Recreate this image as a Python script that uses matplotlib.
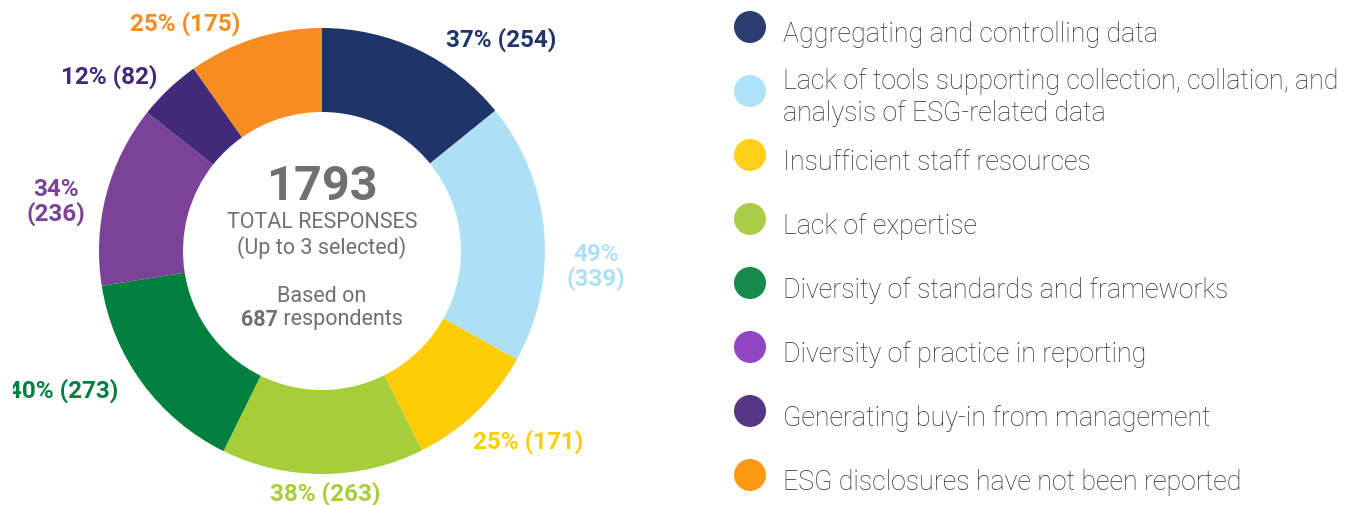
import matplotlib
matplotlib.use("Agg")
import matplotlib.pyplot as plt
from matplotlib.patches import Circle, Rectangle

plt.rcParams['font.family'] = ['Roboto', 'DejaVu Sans']

# --- data ---
categories = [
    "Aggregating and controlling data",
    "Lack of tools supporting collection, collation, and\nanalysis of ESG-related data",
    "Insufficient staff resources",
    "Lack of expertise",
    "Diversity of standards and frameworks",
    "Diversity of practice in reporting",
    "Generating buy-in from management",
    "ESG disclosures have not been reported",
]
responses = [254, 339, 171, 263, 273, 236, 82, 175]
respondents = 687
total = sum(responses)

slice_colors = ["#1F3468", "#AEE0F5", "#FFCD05", "#A6CE39",
                "#00803F", "#7B4397", "#43297A", "#F58D20"]
legend_colors = ["#2B3D70", "#AEE2F7", "#FFD01A", "#AACF47",
                 "#17894A", "#9045C2", "#553685", "#FF9812"]

# label placement (pixels, y down) and which labels wrap
label_pos = [(501, 40), (596, 267), (528, 442), (325, 494),
             (118, 391), (56, 202), (109, 77), (185, 24)]
label_ha = ["center", "center", "center", "center",
            "right", "center", "center", "center"]
label_wrap = [False, True, False, False, False, True, False, False]

W, H = 1363, 506
fig = plt.figure(figsize=(W / 100, H / 100), dpi=100)
ax = fig.add_axes([0, 0, 1, 1])

cx, cy, R = 322, 252, 223
ax.pie(responses, colors=slice_colors, center=(cx, cy), radius=R,
       startangle=-90, counterclock=True,
       wedgeprops=dict(width=84, linewidth=0))
ax.set_xlim(0, W)
ax.set_ylim(H, 0)
ax.set_aspect('equal')
ax.axis('off')

# the left edge of the original is cropped a little
clip = Rectangle((13, 0), W, H, transform=ax.transData)

# slice labels
for v, c, (x, y), ha, wrap in zip(responses, slice_colors, label_pos,
                                   label_ha, label_wrap):
    pct = round(v / respondents * 100)
    sep = "\n" if wrap else " "
    t = ax.text(x, y, f"{pct}%{sep}({v})", color=c, fontsize=17.5,
                fontweight='bold', ha=ha, va='center', linespacing=1.0)
    t.set_clip_path(clip)
    t.set_clip_on(True)

# centre text
grey = "#707070"
ax.text(cx, 187, f"{total}", color=grey, fontsize=35, fontweight='bold',
        ha='center', va='center')
ax.text(cx, 222, "TOTAL RESPONSES", color=grey, fontsize=15.5,
        ha='center', va='center')
ax.text(cx, 248, "(Up to 3 selected)", color=grey, fontsize=15.5,
        ha='center', va='center')
ax.text(cx, 297, "Based on", color=grey, fontsize=15.5,
        ha='center', va='center')

# "687 respondents" with bold number, centred as one line
t1 = ax.text(0, 320, f"{respondents}", color=grey, fontsize=15.5,
             fontweight='bold', ha='left', va='center')
t2 = ax.text(0, 320, " respondents", color=grey, fontsize=15.5,
             ha='left', va='center')
r = fig.canvas.get_renderer()
w1 = t1.get_window_extent(r).width
w2 = t2.get_window_extent(r).width
x0 = cx - (w1 + w2) / 2
t1.set_x(x0)
t2.set_x(x0 + w1)

# legend
for i, (lab, c) in enumerate(zip(categories, legend_colors)):
    my = 28 + 64 * i
    ax.add_patch(Circle((750, my), 16, color=c, linewidth=0))
    # baseline of the last line
    ty = my + 29 if "\n" in lab else my + 14
    ax.text(783, ty, lab, color="#2E2E2E", fontsize=19.3, fontweight='light',
            ha='left', va='baseline', linespacing=1.22)

fig.savefig("out.png", dpi=100, facecolor='white')
